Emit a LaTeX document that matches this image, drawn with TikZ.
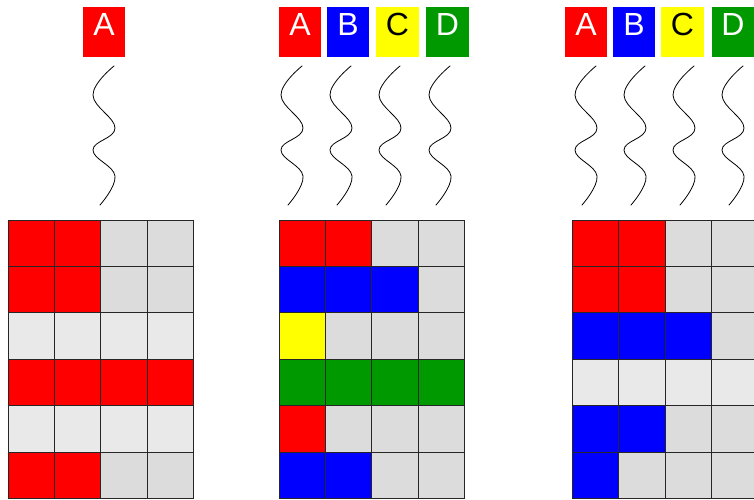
\documentclass[tikz,border=0pt]{standalone}
\usepackage{fontspec}
\setmainfont{Liberation Sans}

\definecolor{R}{HTML}{FF0000}
\definecolor{B}{HTML}{0000FF}
\definecolor{Y}{HTML}{FFFF00}
\definecolor{G}{HTML}{009900}
\definecolor{S}{HTML}{DCDCDC}
\definecolor{L}{HTML}{E9E9E9}

\tikzset{
    lbl/.style={minimum width=42.5pt, minimum height=50pt, inner sep=0pt,
        text height=0.72em, text depth=0pt, font=\fontsize{32}{32}\selectfont},
    cell/.style={draw=black!85, line width=0.9pt},
    wave/.style={line width=0.8pt, line cap=round}
}

\begin{document}
\begin{tikzpicture}[x=1pt, y=-1pt]

    \useasboundingbox (0,0) rectangle (754,499);

    % метки
    \node[lbl, fill=R, text=white] (A1) at (104,32) {A};

    \foreach \n/\f/\t/\x in {A/R/white/300, B/B/white/348, C/Y/black/397.5, D/G/white/447.5}
        \node[lbl, fill=\f, text=\t] (\n2) at (\x,32) {\n};

    \foreach \n/\f/\t/\x in {A/R/white/586, B/B/white/634, C/Y/black/682.5, D/G/white/733}
        \node[lbl, fill=\f, text=\t] (\n3) at (\x,32) {\n};

    % волны
    \foreach \x [count=\i] in {114,302,351,400,450,596,645,694,743} {
        \coordinate (w\i) at (\x,66);
        \draw[wave, shift={(w\i)}] plot[smooth, tension=0.7]
            coordinates {(0,0) (-21,29) (1,62) (-21,84) (1,110) (-14,139)};
    }

    % сетка 1
    \coordinate (g1) at (8,220);
    \foreach \row [count=\r] in {{R,R,S,S},{R,R,S,S},{L,L,L,L},{R,R,R,R},{L,L,L,L},{R,R,S,S}}
        \foreach \c [count=\k] in \row
            \fill[\c, shift={(g1)}] ({(\k-1)*46.4},{(\r-1)*46.4}) rectangle +(46.4,46.4);

    % сетка 2
    \coordinate (g2) at (279,220);
    \foreach \row [count=\r] in {{R,R,S,S},{B,B,B,S},{Y,S,S,S},{G,G,G,G},{R,S,S,S},{B,B,S,S}}
        \foreach \c [count=\k] in \row
            \fill[\c, shift={(g2)}] ({(\k-1)*46.4},{(\r-1)*46.4}) rectangle +(46.4,46.4);

    % сетка 3
    \coordinate (g3) at (572.5,220);
    \foreach \row [count=\r] in {{R,R,S,S},{R,R,S,S},{B,B,B,S},{L,L,L,L},{B,B,S,S},{B,S,S,S}}
        \foreach \c [count=\k] in \row
            \fill[\c, shift={(g3)}] ({(\k-1)*46.4},{(\r-1)*46.4}) rectangle +(46.4,46.4);

    % линии сетки
    \foreach \g in {g1,g2,g3}
        \foreach \r in {0,...,5}
            \foreach \k in {0,...,3}
                \draw[cell, shift={(\g)}] ({\k*46.4},{\r*46.4}) rectangle +(46.4,46.4);

\end{tikzpicture}
\end{document}
